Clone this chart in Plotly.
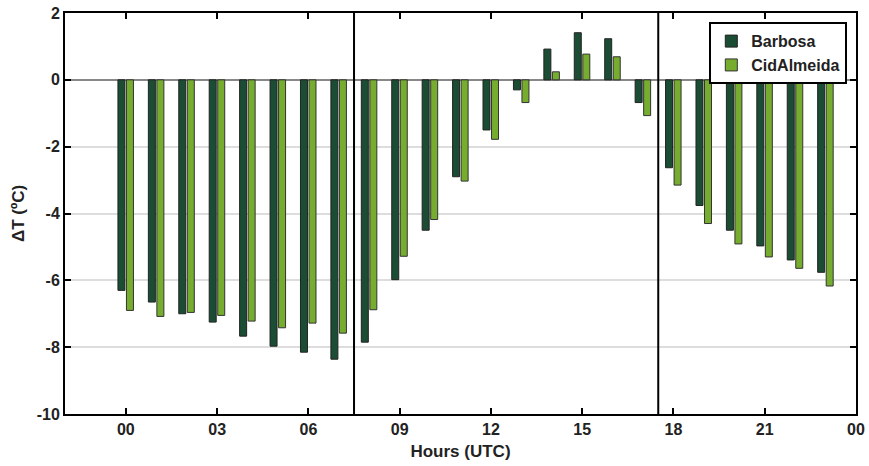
import plotly.graph_objects as go

hours = list(range(24))
barbosa = [-6.30, -6.65, -7.00, -7.25, -7.67, -7.97, -8.15, -8.36,
           -7.85, -5.98, -4.50, -2.90, -1.50, -0.30, 0.92, 1.41,
           1.23, -0.68, -2.63, -3.76, -4.50, -4.97, -5.39, -5.76]
cidalmeida = [-6.90, -7.08, -6.96, -7.05, -7.22, -7.42, -7.28, -7.58,
              -6.88, -5.28, -4.18, -3.03, -1.78, -0.68, 0.24, 0.77,
              0.69, -1.07, -3.15, -4.30, -4.91, -5.30, -5.64, -6.17]
x_tick_vals = [0, 3, 6, 9, 12, 15, 18, 21, 24]
x_tick_text = ["00", "03", "06", "09", "12", "15", "18", "21", "00"]
y_tick_vals = [-10, -8, -6, -4, -2, 0, 2]
y_tick_text = ["-10", "-8", "-6", "-4", "-2", "0", "2"]
separators = [7.5, 17.5]

FONT = "Liberation Sans, Arial, sans-serif"
DARK = "#1b4d35"
LIGHT = "#76ad2f"

fig = go.Figure()
fig.add_trace(go.Bar(x=hours, y=barbosa, name="Barbosa", width=0.23, offset=-0.26,
                     marker=dict(color=DARK, line=dict(color="#222222", width=1))))
fig.add_trace(go.Bar(x=hours, y=cidalmeida, name="CidAlmeida", width=0.23, offset=0.02,
                     marker=dict(color=LIGHT, line=dict(color="#333333", width=1))))

for s in separators:
    fig.add_shape(type="line", x0=s, x1=s, xref="x", y0=0, y1=1, yref="paper",
                  line=dict(color="black", width=2))

fig.update_layout(
    width=869, height=466,
    margin=dict(l=65, r=13, t=13, b=52, autoexpand=False),
    plot_bgcolor="white", paper_bgcolor="white",
    font=dict(family=FONT, size=16, color="#222222"),
    barmode="overlay",
    showlegend=True,
    legend=dict(x=0.989, y=0.977, xanchor="right", yanchor="top",
                bordercolor="black", borderwidth=2, bgcolor="white",
                font=dict(family=FONT, size=16, color="#222222", weight="bold"),
                tracegroupgap=0, itemwidth=30),
)
fig.update_xaxes(range=[-2, 24], tickmode="array", tickvals=x_tick_vals, ticktext=x_tick_text,
                 ticks="inside", ticklen=6, tickwidth=2, tickcolor="black",
                 showline=True, linecolor="black", linewidth=2, mirror="ticks",
                 showgrid=False, zeroline=False, automargin=False,
                 tickfont=dict(family=FONT, size=16, weight="bold"),
                 title=dict(text="Hours (UTC)", standoff=8,
                            font=dict(family=FONT, size=17, weight="bold")))
fig.update_yaxes(range=[-10, 2], tickmode="array", tickvals=y_tick_vals, ticktext=y_tick_text,
                 ticks="inside", ticklen=6, tickwidth=2, tickcolor="black",
                 showline=True, linecolor="black", linewidth=2, mirror="ticks",
                 showgrid=True, gridcolor="#dddddd", gridwidth=2,
                 zeroline=True, zerolinecolor="#888888", zerolinewidth=1.5,
                 automargin=False,
                 tickfont=dict(family=FONT, size=16, weight="bold"),
                 title=dict(text="ΔT (ºC)", standoff=8,
                            font=dict(family=FONT, size=17, weight="bold")))

fig.write_html("out.html")
